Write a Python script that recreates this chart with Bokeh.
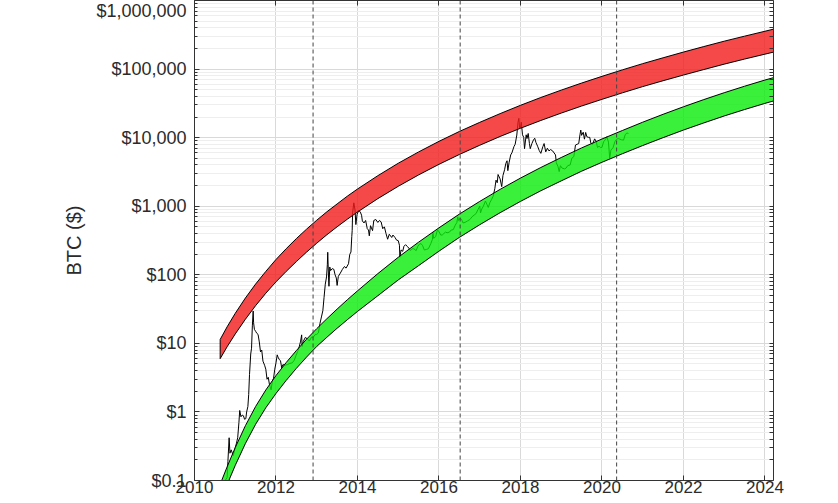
from bokeh.plotting import figure
from bokeh.models import FixedTicker, LogAxis, LinearAxis, Span
from bokeh.embed import file_html
from bokeh.resources import INLINE

# ---------------- data ----------------
price_year = [
    2010.55, 2010.62, 2010.70, 2010.75, 2010.80, 2010.82, 2010.85, 2010.87, 2010.90, 2010.95,
    2011.00, 2011.03, 2011.06, 2011.09, 2011.11, 2011.14, 2011.17, 2011.20, 2011.23, 2011.26,
    2011.28, 2011.31, 2011.33, 2011.35, 2011.38, 2011.40, 2011.42, 2011.44, 2011.45, 2011.47,
    2011.50, 2011.53, 2011.56, 2011.59, 2011.62, 2011.65, 2011.68, 2011.72, 2011.75, 2011.78,
    2011.81, 2011.84, 2011.88, 2011.91, 2011.94, 2011.97, 2012.00, 2012.03, 2012.05, 2012.08,
    2012.11, 2012.14, 2012.17, 2012.22, 2012.28, 2012.34, 2012.40, 2012.45, 2012.49, 2012.53,
    2012.57, 2012.60, 2012.63, 2012.64, 2012.67, 2012.72, 2012.77, 2012.82, 2012.87, 2012.92,
    2012.96, 2013.00, 2013.04, 2013.08, 2013.12, 2013.15, 2013.18, 2013.21, 2013.24, 2013.26,
    2013.27, 2013.29, 2013.30, 2013.32, 2013.34, 2013.38, 2013.42, 2013.45, 2013.48, 2013.50,
    2013.53, 2013.58, 2013.63, 2013.68, 2013.72, 2013.78, 2013.81, 2013.84, 2013.86, 2013.87,
    2013.88, 2013.91, 2013.94, 2013.96, 2013.99, 2014.03, 2014.07, 2014.10, 2014.12, 2014.16,
    2014.20, 2014.24, 2014.27, 2014.29, 2014.32, 2014.37, 2014.40, 2014.45, 2014.50, 2014.54,
    2014.58, 2014.62, 2014.66, 2014.70, 2014.74, 2014.78, 2014.84, 2014.87, 2014.92, 2014.96,
    2015.00, 2015.03, 2015.04, 2015.07, 2015.11, 2015.14, 2015.18, 2015.22, 2015.26, 2015.30,
    2015.34, 2015.38, 2015.44, 2015.48, 2015.52, 2015.56, 2015.60, 2015.64, 2015.70, 2015.74,
    2015.80, 2015.84, 2015.85, 2015.87, 2015.92, 2015.96, 2016.00, 2016.04, 2016.08, 2016.12,
    2016.16, 2016.20, 2016.26, 2016.30, 2016.35, 2016.40, 2016.44, 2016.46, 2016.48, 2016.51,
    2016.55, 2016.59, 2016.64, 2016.70, 2016.76, 2016.81, 2016.86, 2016.91, 2016.96, 2017.00,
    2017.02, 2017.05, 2017.09, 2017.14, 2017.18, 2017.21, 2017.25, 2017.29, 2017.33, 2017.37,
    2017.40, 2017.43, 2017.45, 2017.50, 2017.54, 2017.57, 2017.61, 2017.64, 2017.67, 2017.69,
    2017.72, 2017.76, 2017.79, 2017.84, 2017.87, 2017.91, 2017.94, 2017.96, 2017.98, 2018.00,
    2018.02, 2018.05, 2018.08, 2018.10, 2018.14, 2018.16, 2018.19, 2018.22, 2018.24, 2018.28,
    2018.32, 2018.35, 2018.38, 2018.42, 2018.46, 2018.50, 2018.55, 2018.58, 2018.62, 2018.66,
    2018.70, 2018.74, 2018.79, 2018.86, 2018.88, 2018.92, 2018.95, 2018.98, 2019.02, 2019.08,
    2019.12, 2019.16, 2019.22, 2019.26, 2019.31, 2019.35, 2019.39, 2019.43, 2019.46, 2019.48,
    2019.50, 2019.54, 2019.57, 2019.60, 2019.63, 2019.67, 2019.70, 2019.73, 2019.77, 2019.82,
    2019.86, 2019.89, 2019.93, 2019.96, 2020.00, 2020.04, 2020.08, 2020.12, 2020.16, 2020.19,
    2020.22, 2020.27, 2020.32, 2020.36, 2020.40, 2020.44, 2020.48, 2020.53, 2020.57, 2020.61,
    2020.65,
]
price_usd = [
    0.07, 0.065, 0.062, 0.10, 0.11, 0.19, 0.42, 0.25, 0.28, 0.23,
    0.30, 0.35, 0.42, 0.70, 1.05, 0.85, 0.90, 0.88, 0.78, 0.80,
    1.00, 1.20, 1.80, 3.5, 7.0, 8.5, 18.0, 29.6, 20.0, 16.0,
    15.0, 14.0, 13.5, 10.5, 7.5, 8.0, 5.5, 4.8, 4.2, 3.0,
    3.2, 2.5, 2.1, 2.8, 3.1, 4.2, 5.2, 6.8, 6.3, 5.8,
    5.6, 4.4, 4.9, 4.8, 4.9, 5.1, 5.2, 5.7, 6.6, 7.6,
    8.9, 10.5, 13.3, 9.0, 10.7, 12.2, 11.6, 10.8, 12.3, 12.4,
    13.4, 13.5, 14.2, 19.6, 25.0, 30.0, 47.0, 73.0, 93.0, 140,
    213, 90, 68, 130, 115, 123, 120, 100, 90, 70,
    95, 106, 120, 132, 125, 145, 198, 215, 360, 440,
    800, 1120, 880, 540, 760, 870, 820, 740, 610, 570,
    620, 470, 450, 370, 520, 440, 620, 640, 580, 620,
    590, 470, 500, 400, 330, 390, 350, 380, 350, 320,
    315, 270, 180, 230, 220, 260, 275, 260, 245, 225,
    240, 240, 225, 260, 280, 285, 265, 230, 235, 240,
    285, 330, 420, 340, 360, 450, 430, 380, 380, 400,
    420, 410, 420, 450, 455, 530, 580, 700, 620, 660,
    650, 570, 580, 610, 640, 700, 740, 780, 900, 1000,
    800, 910, 1000, 1190, 1050, 960, 1130, 1250, 1400, 1800,
    2400, 2200, 2900, 2500, 1930, 2800, 3400, 4200, 4600, 3300,
    4300, 5600, 6000, 7400, 8000, 10900, 16800, 19100, 13800, 14000,
    16800, 11000, 10100, 6900, 11000, 9700, 11500, 8200, 6900, 8200,
    9300, 9800, 8500, 7500, 6500, 5900, 7400, 8200, 6200, 7000,
    6400, 6700, 6400, 5600, 4300, 3800, 3200, 3900, 3600, 3500,
    3600, 3900, 4000, 5000, 5300, 7800, 8000, 8200, 11000, 12900,
    10800, 12000, 9500, 11900, 10300, 10100, 10100, 8200, 8000, 9600,
    8800, 7200, 7500, 7200, 7200, 8700, 9300, 10300, 8600, 5000,
    6600, 7100, 8800, 9500, 9700, 9500, 9300, 9200, 11000, 11700,
    11500,
]

red_year = [2010.63, 2010.8, 2011.0, 2011.25, 2011.5, 2011.75, 2012.0, 2012.25, 2012.5, 2012.75,
            2013.0, 2013.25, 2013.5, 2013.75, 2014.0, 2014.5, 2015.0, 2015.5, 2016.0, 2016.5,
            2017.0, 2017.5, 2018.0, 2018.5, 2019.0, 2019.5, 2020.0, 2020.5, 2021.0, 2021.5,
            2022.0, 2022.5, 2023.0, 2023.5, 2024.0, 2024.3]
red_upper = [11.4, 17.4, 27.4, 45.9, 73.3, 112, 167, 240, 337, 463,
             625, 830, 1080, 1400, 1780, 2790, 4230, 6190, 8830, 12300,
             16700, 22400, 29600, 38500, 49300, 62500, 78300, 97300, 120000, 146000,
             177000, 213000, 255000, 302000, 356000, 394000]
red_lower = [5.98, 8.91, 13.7, 22.5, 35.5, 53.8, 78.9, 112, 156, 214,
             289, 384, 501, 646, 822, 1290, 1950, 2860, 4080, 5680,
             7740, 10400, 13700, 17800, 22800, 28900, 36200, 45000, 55500, 67600,
             81800, 98400, 118000, 140000, 165000, 182000]

green_year = [2010.6, 2010.8, 2011.0, 2011.25, 2011.5, 2011.75, 2012.0, 2012.25, 2012.5, 2012.75,
              2013.0, 2013.25, 2013.5, 2013.75, 2014.0, 2014.5, 2015.0, 2015.5, 2016.0, 2016.5,
              2017.0, 2017.5, 2018.0, 2018.5, 2019.0, 2019.5, 2020.0, 2020.5, 2021.0, 2021.5,
              2022.0, 2022.5, 2023.0, 2023.5, 2024.0, 2024.3]
green_upper = [0.0794, 0.158, 0.302, 0.631, 1.20, 2.09, 3.39, 5.25, 7.85, 11.5,
               16.4, 22.9, 31.6, 43.2, 58.2, 104, 180, 299, 484, 767,
               1175, 1760, 2570, 3670, 5130, 7080, 9550, 12700, 16800, 21900,
               28200, 35900, 45200, 56200, 69200, 77600]
green_lower = [0.0437, 0.0871, 0.166, 0.347, 0.661, 1.15, 1.86, 2.88, 4.32, 6.31,
               9.02, 12.3, 16.6, 22.1, 29.2, 49.5, 84.1, 136, 221, 351,
               537, 804, 1175, 1680, 2340, 3240, 4370, 5820, 7670, 10000,
               12900, 16400, 20700, 25700, 31600, 35500]

halving_years = [2012.91, 2016.52, 2020.36]

x_ticks = [2010, 2012, 2014, 2016, 2018, 2020, 2022, 2024]
y_ticks = [0.1, 1, 10, 100, 1000, 10000, 100000, 1000000]
y_tick_labels = ["$0.1", "$1", "$10", "$100", "$1,000", "$10,000", "$100,000", "$1,000,000"]

# ---------------- figure ----------------
FONT = "Liberation Sans"
TXT = "#2b2b2b"
AX = "#333333"

p = figure(width=830, height=495, x_range=(2010, 2024.21), y_range=(0.1, 1e6),
           y_axis_type="log", output_backend="svg", toolbar_location=None,
           title=None, min_border_left=194, min_border_right=57,
           min_border_top=0, min_border_bottom=0)
p.background_fill_color = "white"
p.border_fill_color = "white"
p.outline_line_color = None

y_minor = [m * 10.0 ** k for k in range(-1, 6) for m in range(2, 10)]
yticker = FixedTicker(ticks=y_ticks, minor_ticks=y_minor)
xticker = FixedTicker(ticks=x_ticks)

p.yaxis.ticker = yticker
p.xaxis.ticker = xticker
p.ygrid.ticker = yticker
p.xgrid.ticker = xticker

overrides = {}
for v, lab in zip(y_ticks, y_tick_labels):
    overrides[v] = lab
p.yaxis.major_label_overrides = overrides

for ax in [p.xaxis[0], p.yaxis[0]]:
    ax.axis_line_color = AX
    ax.major_tick_line_color = AX
    ax.minor_tick_line_color = AX
    ax.major_tick_in = 5
    ax.major_tick_out = 0
    ax.minor_tick_in = 3
    ax.minor_tick_out = 0
    ax.major_label_text_font = FONT
    ax.major_label_text_color = TXT

p.xaxis.minor_tick_line_color = None
p.xaxis.major_label_text_font_size = "17px"
p.xaxis.major_label_standoff = 0
p.yaxis.major_label_text_font_size = "18px"
p.yaxis.major_label_standoff = 8
p.yaxis.axis_label = "BTC ($)"
p.yaxis.axis_label_text_font = FONT
p.yaxis.axis_label_text_font_size = "20px"
p.yaxis.axis_label_text_font_style = "normal"
p.yaxis.axis_label_text_color = TXT
p.yaxis.axis_label_standoff = 8

# box axes on the right and on top: tick marks only, no labels
right_ticker = FixedTicker(ticks=[], minor_ticks=y_ticks + y_minor)
right = LogAxis(ticker=right_ticker, major_label_standoff=0, axis_label_standoff=0,
                minor_tick_in=4, minor_tick_out=0, major_tick_in=0, major_tick_out=0,
                axis_line_color=AX, minor_tick_line_color=AX)
p.add_layout(right, "right")
top_ticker = FixedTicker(ticks=[], minor_ticks=x_ticks)
top = LinearAxis(ticker=top_ticker, major_label_standoff=0, axis_label_standoff=0,
                 minor_tick_in=5, minor_tick_out=0, major_tick_in=0, major_tick_out=0,
                 axis_line_color=AX, minor_tick_line_color=AX)
p.add_layout(top, "above")

p.xgrid.grid_line_color = "#d9d9d9"
p.ygrid.grid_line_color = "#d9d9d9"
p.ygrid.minor_grid_line_color = "#eeeeee"

# price line (drawn first, the bands tint it where they overlap)
p.line(price_year, price_usd, line_color="black", line_width=1)

red_xs = red_year + red_year[::-1]
red_ys = red_upper + red_lower[::-1]
p.patch(red_xs, red_ys, fill_color=(242, 28, 28), fill_alpha=0.8,
        line_color="black", line_width=1)

green_xs = green_year + green_year[::-1]
green_ys = green_upper + green_lower[::-1]
p.patch(green_xs, green_ys, fill_color=(10, 236, 10), fill_alpha=0.8,
        line_color="black", line_width=1)

for h in halving_years:
    p.add_layout(Span(location=h, dimension="height", line_color="#444444",
                      line_width=1, line_dash="4 3"))

open("out.html", "w").write(file_html(p, INLINE))
